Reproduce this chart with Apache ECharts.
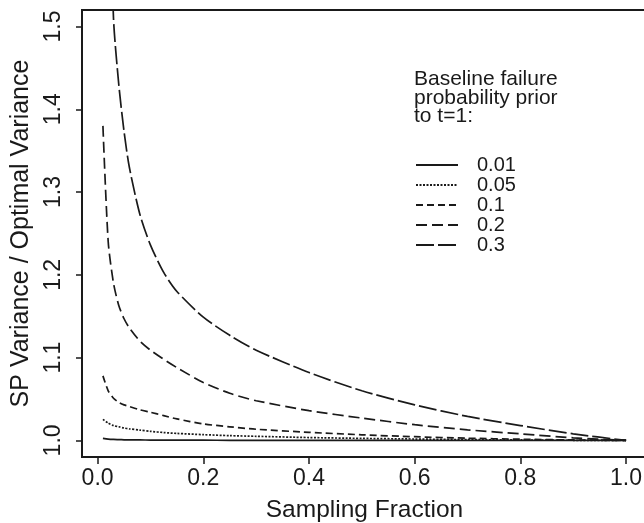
<!DOCTYPE html>
<html><head><meta charset="utf-8">
<script src="https://cdn.jsdelivr.net/npm/echarts@6/dist/echarts.min.js"></script>
<style>html,body{margin:0;padding:0;background:#fff}#c{width:644px;height:523px}</style>
</head><body><div id="c"></div>
<script>
// Sampling fractions (x) at which the curves were read
const fractions = [0.01, 0.02, 0.03, 0.04, 0.05, 0.06, 0.08, 0.10, 0.125, 0.15, 0.20, 0.25, 0.30, 0.40, 0.50, 0.60, 0.70, 0.80, 0.90, 1.00];
// SP variance / optimal variance for each baseline failure probability
const p001 = [1.0024, 1.0016, 1.0012, 1.0010, 1.0008, 1.0007, 1.0006, 1.0005, 1.0004, 1.0004, 1.0003, 1.0002, 1.0002, 1.0001, 1.0001, 1.0000, 1.0000, 1.0000, 1.0000, 1.0000];
const p005 = [1.0255, 1.0210, 1.0180, 1.0165, 1.0150, 1.0140, 1.0125, 1.0110, 1.0095, 1.0085, 1.0070, 1.0058, 1.0050, 1.0035, 1.0025, 1.0017, 1.0010, 1.0006, 1.0002, 1.0000];
const p01  = [1.078, 1.060, 1.051, 1.046, 1.043, 1.041, 1.037, 1.034, 1.030, 1.026, 1.020, 1.0165, 1.0135, 1.0098, 1.0068, 1.0045, 1.0027, 1.0015, 1.0006, 1.0000];
const p02  = [1.380, 1.240, 1.190, 1.163, 1.147, 1.136, 1.120, 1.109, 1.098, 1.088, 1.070, 1.057, 1.048, 1.036, 1.027, 1.019, 1.0128, 1.008, 1.0032, 1.0000];
const p03  = [2.300, 1.750, 1.510, 1.430, 1.373, 1.330, 1.273, 1.236, 1.203, 1.180, 1.149, 1.127, 1.109, 1.082, 1.060, 1.043, 1.029, 1.018, 1.008, 1.000];
const seriesNames = ['0.01', '0.05', '0.1', '0.2', '0.3'];
const seriesValues = [p001, p005, p01, p02, p03];
const dashes = ['solid', [2, 1.5], [7, 4], [11, 5], [18, 4]];
const legendTitle = 'Baseline failure\nprobability prior\nto t=1:';
const xName = 'Sampling Fraction';
const yName = 'SP Variance / Optimal Variance';

const ink = '#1a1a1a';
const font = '"Liberation Sans", Arial, Helvetica, sans-serif';
const chart = echarts.init(document.getElementById('c'), null, {renderer: 'canvas'});

const series = seriesNames.map((n, k) => ({
  name: n, type: 'line', xAxisIndex: 0, yAxisIndex: 0,
  data: fractions.map((f, i) => [f, seriesValues[k][i]]),
  symbol: 'none', showSymbol: false, smooth: 0.25, clip: true,
  lineStyle: {color: ink, width: 1.7, type: dashes[k]},
  itemStyle: {color: ink}
}));

chart.setOption({
  animation: false,
  backgroundColor: '#fff',
  title: {
    text: legendTitle, left: 414, top: 70, padding: 0,
    textStyle: {fontSize: 21, fontWeight: 'normal', lineHeight: 18.5, color: ink, fontFamily: font}
  },
  legend: {
    orient: 'vertical', left: 415, top: 155, padding: 0,
    itemWidth: 42, itemHeight: 19, itemGap: 0,
    data: seriesNames,
    itemStyle: {opacity: 0, color: 'transparent', borderWidth: 0},
    textStyle: {fontSize: 20, lineHeight: 19, color: ink, fontFamily: font, padding: [0, 0, 0, 14]}
  },
  grid: [
    {left: 82, top: 10, width: 565, height: 447, outerBoundsMode: 'none', containLabel: false,
     show: true, borderColor: ink, borderWidth: 2, backgroundColor: 'transparent'},
    {left: 97.6, top: 26.5, width: 528.4, height: 413.9, outerBoundsMode: 'none', containLabel: false}
  ],
  xAxis: [
    {gridIndex: 0, type: 'value', min: -0.0296, max: 1.0396,
     axisLine: {show: false}, axisTick: {show: false}, axisLabel: {show: false}, splitLine: {show: false},
     name: xName, nameLocation: 'middle', nameGap: 41,
     nameTextStyle: {fontSize: 24.5, color: ink, fontFamily: font}},
    {gridIndex: 1, type: 'value', min: 0, max: 1, interval: 0.2, position: 'bottom', offset: 16.6,
     axisLine: {show: true, onZero: false, lineStyle: {color: ink, width: 2, opacity: 0}}, splitLine: {show: false},
     axisTick: {show: true, length: 7, lineStyle: {color: ink, width: 1.5}},
     axisLabel: {margin: 10.5, fontSize: 23, color: ink, fontFamily: font, formatter: v => v.toFixed(1)}}
  ],
  yAxis: [
    {gridIndex: 0, type: 'value', min: 0.98, max: 1.52,
     axisLine: {show: false}, axisTick: {show: false}, axisLabel: {show: false}, splitLine: {show: false},
     name: yName, nameLocation: 'middle', nameGap: 48,
     nameTextStyle: {fontSize: 25, color: ink, fontFamily: font}},
    {gridIndex: 1, type: 'value', min: 1.0, max: 1.5, interval: 0.1, position: 'left', offset: 15.6,
     axisLine: {show: true, onZero: false, lineStyle: {color: ink, width: 2, opacity: 0}}, splitLine: {show: false},
     axisTick: {show: true, length: 6, lineStyle: {color: ink, width: 1.5}},
     axisLabel: {rotate: 90, margin: 16.5, fontSize: 23, color: ink, fontFamily: font, formatter: v => v.toFixed(1)}}
  ],
  series: series
});
</script></body></html>
